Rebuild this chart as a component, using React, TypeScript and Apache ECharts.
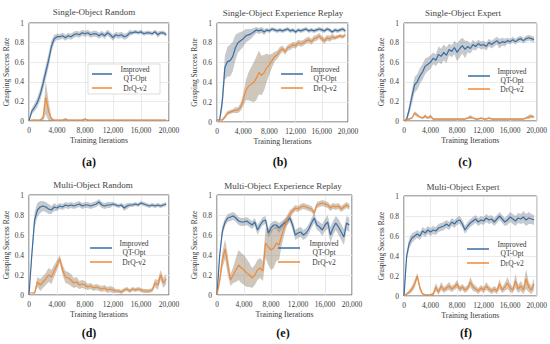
import React, { useEffect, useRef } from "react";
import * as echarts from "echarts";

// Sample grid: training iterations every 400 steps
const ITER = Array.from({ length: 50 }, (_, i) => i * 400);

const TITLES = [
  "Single-Object Random",
  "Single-Object Experience Replay",
  "Single-Object Expert",
  "Multi-Object Random",
  "Multi-Object Experience Replay",
  "Multi-Object Expert",
];
const CAPTIONS = ["(a)", "(b)", "(c)", "(d)", "(e)", "(f)"];
const SERIES_NAMES = ["Improved\nQT-Opt", "DrQ-v2"];
const X_NAME = "Training Iterations";
const Y_NAME = "Grasping Success Rate";

// (a) Single-Object Random
const aBlue = [0, 0.1, 0.14, 0.19, 0.27, 0.38, 0.5, 0.62, 0.76, 0.84, 0.86, 0.86, 0.87, 0.85, 0.87, 0.86, 0.88, 0.89, 0.88, 0.9, 0.89, 0.9, 0.88, 0.89, 0.89, 0.87, 0.89, 0.87, 0.9, 0.88, 0.85, 0.88, 0.87, 0.88, 0.86, 0.87, 0.9, 0.9, 0.91, 0.9, 0.91, 0.89, 0.9, 0.9, 0.89, 0.91, 0.88, 0.9, 0.9, 0.88];
const aBlueS = [0, 0.03, 0.04, 0.05, 0.06, 0.07, 0.07, 0.07, 0.06, 0.04, 0.03, 0.03, 0.03, 0.03, 0.03, 0.03, 0.03, 0.03, 0.03, 0.03, 0.03, 0.03, 0.03, 0.03, 0.03, 0.03, 0.03, 0.03, 0.03, 0.03, 0.03, 0.03, 0.03, 0.03, 0.03, 0.03, 0.03, 0.02, 0.02, 0.02, 0.02, 0.02, 0.02, 0.02, 0.02, 0.02, 0.03, 0.02, 0.02, 0.02];
const aOrange = [0, 0.01, 0.01, 0.01, 0.01, 0.03, 0.24, 0.1, 0.02, 0.01, 0.01, 0.01, 0.01, 0.02, 0.01, 0.01, 0.01, 0.01, 0.01, 0.01, 0.02, 0.01, 0.01, 0.01, 0.01, 0.01, 0.01, 0.01, 0.01, 0.01, 0.01, 0.01, 0.01, 0.01, 0.01, 0.01, 0.01, 0.01, 0.01, 0.01, 0.01, 0.01, 0.01, 0.01, 0.01, 0.01, 0.01, 0.01, 0.01, 0.01];
const aOrangeS = [0, 0.005, 0.005, 0.005, 0.005, 0.03, 0.17, 0.1, 0.02, 0.005, 0.005, 0.005, 0.005, 0.01, 0.005, 0.005, 0.005, 0.005, 0.005, 0.005, 0.01, 0.005, 0.005, 0.005, 0.005, 0.005, 0.005, 0.005, 0.005, 0.005, 0.005, 0.005, 0.005, 0.005, 0.005, 0.005, 0.005, 0.005, 0.005, 0.005, 0.005, 0.005, 0.005, 0.005, 0.005, 0.005, 0.005, 0.005, 0.005, 0.005];

// (b) Single-Object Experience Replay
const bBlue = [0.02, 0.02, 0.2, 0.55, 0.61, 0.62, 0.66, 0.75, 0.8, 0.82, 0.84, 0.87, 0.88, 0.89, 0.91, 0.93, 0.92, 0.93, 0.91, 0.93, 0.92, 0.94, 0.93, 0.92, 0.93, 0.92, 0.93, 0.94, 0.92, 0.93, 0.91, 0.93, 0.92, 0.93, 0.94, 0.92, 0.93, 0.92, 0.93, 0.94, 0.93, 0.92, 0.94, 0.93, 0.91, 0.93, 0.92, 0.93, 0.94, 0.92];
const bBlueS = [0, 0.01, 0.08, 0.12, 0.15, 0.16, 0.15, 0.13, 0.1, 0.09, 0.08, 0.07, 0.06, 0.05, 0.04, 0.03, 0.03, 0.03, 0.03, 0.02, 0.02, 0.02, 0.02, 0.02, 0.02, 0.02, 0.02, 0.02, 0.02, 0.02, 0.02, 0.02, 0.02, 0.02, 0.02, 0.02, 0.02, 0.02, 0.02, 0.02, 0.02, 0.02, 0.02, 0.02, 0.02, 0.02, 0.02, 0.02, 0.02, 0.02];
const bOrange = [0.02, 0.02, 0.02, 0.05, 0.09, 0.1, 0.11, 0.12, 0.12, 0.15, 0.22, 0.32, 0.36, 0.38, 0.4, 0.44, 0.5, 0.47, 0.5, 0.55, 0.58, 0.62, 0.66, 0.68, 0.72, 0.74, 0.71, 0.75, 0.76, 0.78, 0.77, 0.8, 0.79, 0.8, 0.82, 0.83, 0.81, 0.84, 0.85, 0.87, 0.84, 0.82, 0.85, 0.84, 0.86, 0.85, 0.86, 0.87, 0.86, 0.88];
const bOrangeS = [0, 0, 0.01, 0.02, 0.02, 0.02, 0.02, 0.03, 0.03, 0.04, 0.06, 0.1, 0.14, 0.17, 0.2, 0.22, 0.22, 0.2, 0.18, 0.14, 0.1, 0.07, 0.05, 0.04, 0.04, 0.03, 0.03, 0.03, 0.03, 0.03, 0.03, 0.03, 0.03, 0.03, 0.03, 0.03, 0.03, 0.03, 0.03, 0.03, 0.03, 0.03, 0.03, 0.03, 0.03, 0.02, 0.02, 0.02, 0.02, 0.02];

// (c) Single-Object Expert
const cBlue = [0, 0.02, 0.12, 0.25, 0.37, 0.4, 0.46, 0.5, 0.56, 0.58, 0.6, 0.64, 0.62, 0.68, 0.66, 0.7, 0.67, 0.73, 0.71, 0.75, 0.7, 0.74, 0.77, 0.73, 0.76, 0.74, 0.78, 0.76, 0.79, 0.77, 0.78, 0.76, 0.8, 0.78, 0.8, 0.82, 0.79, 0.81, 0.8, 0.82, 0.81, 0.83, 0.81, 0.83, 0.84, 0.82, 0.84, 0.85, 0.84, 0.83];
const cBlueS = [0, 0.02, 0.05, 0.07, 0.08, 0.08, 0.08, 0.08, 0.08, 0.07, 0.07, 0.06, 0.06, 0.08, 0.08, 0.08, 0.08, 0.06, 0.06, 0.07, 0.09, 0.09, 0.08, 0.09, 0.06, 0.05, 0.05, 0.04, 0.04, 0.04, 0.04, 0.04, 0.04, 0.04, 0.04, 0.04, 0.05, 0.04, 0.04, 0.03, 0.03, 0.03, 0.03, 0.03, 0.03, 0.03, 0.03, 0.03, 0.03, 0.03];
const cOrange = [0, 0.02, 0.02, 0.03, 0.08, 0.06, 0.04, 0.03, 0.05, 0.03, 0.05, 0.02, 0.02, 0.02, 0.02, 0.02, 0.02, 0.02, 0.02, 0.02, 0.02, 0.02, 0.02, 0.02, 0.03, 0.04, 0.03, 0.02, 0.02, 0.03, 0.02, 0.02, 0.03, 0.02, 0.02, 0.02, 0.02, 0.02, 0.02, 0.02, 0.02, 0.02, 0.02, 0.02, 0.02, 0.02, 0.03, 0.04, 0.05, 0.04];
const cOrangeS = [0, 0.01, 0.01, 0.01, 0.02, 0.02, 0.01, 0.01, 0.02, 0.01, 0.02, 0.01, 0.01, 0.01, 0.01, 0.01, 0.01, 0.01, 0.01, 0.01, 0.01, 0.01, 0.01, 0.01, 0.01, 0.02, 0.01, 0.01, 0.01, 0.01, 0.01, 0.01, 0.01, 0.01, 0.01, 0.01, 0.01, 0.01, 0.01, 0.01, 0.01, 0.01, 0.01, 0.01, 0.01, 0.01, 0.01, 0.02, 0.02, 0.01];

// (d) Multi-Object Random
const dBlue = [0, 0.4, 0.75, 0.85, 0.88, 0.89, 0.88, 0.86, 0.85, 0.88, 0.87, 0.89, 0.88, 0.9, 0.89, 0.9, 0.89, 0.9, 0.91, 0.89, 0.9, 0.9, 0.89, 0.9, 0.91, 0.93, 0.9, 0.89, 0.9, 0.9, 0.91, 0.9, 0.89, 0.9, 0.87, 0.89, 0.9, 0.9, 0.91, 0.9, 0.92, 0.91, 0.9, 0.89, 0.9, 0.89, 0.9, 0.89, 0.9, 0.91];
const dBlueS = [0, 0.05, 0.08, 0.07, 0.06, 0.05, 0.05, 0.05, 0.04, 0.04, 0.03, 0.03, 0.03, 0.03, 0.03, 0.03, 0.03, 0.03, 0.03, 0.03, 0.03, 0.03, 0.03, 0.03, 0.03, 0.03, 0.03, 0.03, 0.03, 0.03, 0.02, 0.02, 0.02, 0.02, 0.03, 0.03, 0.02, 0.02, 0.02, 0.02, 0.02, 0.02, 0.02, 0.02, 0.02, 0.02, 0.02, 0.02, 0.02, 0.02];
const dOrange = [0.02, 0.02, 0.02, 0.13, 0.1, 0.13, 0.16, 0.2, 0.18, 0.24, 0.3, 0.36, 0.25, 0.18, 0.17, 0.15, 0.12, 0.13, 0.1, 0.11, 0.1, 0.08, 0.09, 0.07, 0.08, 0.07, 0.06, 0.07, 0.05, 0.06, 0.05, 0.04, 0.04, 0.03, 0.05, 0.06, 0.04, 0.06, 0.05, 0.06, 0.05, 0.04, 0.04, 0.04, 0.05, 0.12, 0.1, 0.2, 0.12, 0.16];
const dOrangeS = [0, 0, 0.01, 0.05, 0.06, 0.06, 0.06, 0.07, 0.07, 0.06, 0.05, 0.04, 0.05, 0.06, 0.06, 0.06, 0.05, 0.05, 0.04, 0.04, 0.04, 0.03, 0.03, 0.03, 0.03, 0.03, 0.03, 0.03, 0.03, 0.03, 0.03, 0.02, 0.02, 0.02, 0.02, 0.02, 0.02, 0.02, 0.02, 0.02, 0.02, 0.02, 0.02, 0.02, 0.02, 0.04, 0.05, 0.05, 0.05, 0.05];

// (e) Multi-Object Experience Replay
const eBlue = [0, 0.4, 0.64, 0.73, 0.77, 0.78, 0.79, 0.77, 0.74, 0.73, 0.73, 0.74, 0.72, 0.7, 0.73, 0.65, 0.7, 0.74, 0.75, 0.62, 0.67, 0.7, 0.7, 0.67, 0.7, 0.72, 0.74, 0.77, 0.7, 0.6, 0.62, 0.63, 0.6, 0.62, 0.66, 0.72, 0.77, 0.7, 0.68, 0.65, 0.7, 0.73, 0.6, 0.67, 0.72, 0.68, 0.63, 0.58, 0.72, 0.7];
const eBlueS = [0, 0.04, 0.05, 0.04, 0.04, 0.04, 0.04, 0.04, 0.04, 0.04, 0.04, 0.04, 0.04, 0.04, 0.04, 0.05, 0.04, 0.04, 0.04, 0.05, 0.05, 0.04, 0.04, 0.05, 0.04, 0.04, 0.04, 0.04, 0.05, 0.05, 0.05, 0.05, 0.05, 0.05, 0.05, 0.05, 0.05, 0.05, 0.05, 0.06, 0.06, 0.07, 0.08, 0.07, 0.07, 0.08, 0.08, 0.08, 0.07, 0.07];
const eOrange = [0, 0.15, 0.35, 0.46, 0.3, 0.15, 0.2, 0.25, 0.3, 0.27, 0.25, 0.22, 0.2, 0.17, 0.2, 0.25, 0.27, 0.24, 0.52, 0.48, 0.45, 0.47, 0.52, 0.5, 0.6, 0.68, 0.75, 0.81, 0.84, 0.87, 0.86, 0.88, 0.89, 0.88, 0.87, 0.86, 0.82, 0.9, 0.91, 0.92, 0.91, 0.9, 0.87, 0.89, 0.88, 0.89, 0.86, 0.88, 0.9, 0.88];
const eOrangeS = [0, 0.05, 0.08, 0.1, 0.1, 0.06, 0.08, 0.12, 0.15, 0.15, 0.15, 0.14, 0.12, 0.1, 0.1, 0.1, 0.1, 0.1, 0.15, 0.18, 0.2, 0.2, 0.18, 0.15, 0.1, 0.07, 0.05, 0.04, 0.03, 0.03, 0.03, 0.03, 0.03, 0.03, 0.03, 0.03, 0.03, 0.03, 0.03, 0.03, 0.03, 0.03, 0.03, 0.03, 0.03, 0.03, 0.03, 0.03, 0.03, 0.03];

// (f) Multi-Object Expert
const fBlue = [0, 0.4, 0.53, 0.58, 0.6, 0.62, 0.6, 0.65, 0.63, 0.66, 0.64, 0.66, 0.65, 0.68, 0.69, 0.7, 0.72, 0.7, 0.74, 0.72, 0.75, 0.76, 0.72, 0.66, 0.7, 0.73, 0.75, 0.77, 0.74, 0.76, 0.75, 0.78, 0.76, 0.77, 0.74, 0.77, 0.8, 0.77, 0.74, 0.76, 0.79, 0.77, 0.75, 0.78, 0.77, 0.79, 0.76, 0.78, 0.77, 0.76];
const fBlueS = [0, 0.05, 0.05, 0.05, 0.04, 0.04, 0.04, 0.04, 0.04, 0.04, 0.04, 0.04, 0.04, 0.04, 0.04, 0.04, 0.04, 0.04, 0.04, 0.04, 0.04, 0.04, 0.04, 0.04, 0.04, 0.04, 0.04, 0.04, 0.04, 0.04, 0.04, 0.04, 0.04, 0.04, 0.04, 0.04, 0.04, 0.04, 0.04, 0.05, 0.05, 0.05, 0.05, 0.05, 0.05, 0.06, 0.06, 0.06, 0.05, 0.05];
const fOrange = [0, 0.02, 0.04, 0.07, 0.12, 0.2, 0.08, 0.02, 0.01, 0.01, 0.01, 0.02, 0.09, 0.04, 0.1, 0.06, 0.08, 0.1, 0.07, 0.09, 0.12, 0.07, 0.09, 0.06, 0.08, 0.14, 0.09, 0.07, 0.05, 0.08, 0.06, 0.1, 0.07, 0.05, 0.07, 0.05, 0.12, 0.06, 0.09, 0.13, 0.08, 0.06, 0.15, 0.07, 0.1, 0.06, 0.17, 0.09, 0.06, 0.12];
const fOrangeS = [0, 0.01, 0.02, 0.03, 0.04, 0.03, 0.03, 0.01, 0.01, 0.01, 0.01, 0.02, 0.04, 0.03, 0.04, 0.03, 0.03, 0.04, 0.03, 0.03, 0.04, 0.03, 0.03, 0.03, 0.03, 0.05, 0.04, 0.03, 0.03, 0.03, 0.03, 0.04, 0.03, 0.03, 0.03, 0.03, 0.05, 0.03, 0.04, 0.06, 0.04, 0.03, 0.07, 0.04, 0.05, 0.04, 0.1, 0.05, 0.04, 0.06];

const DATA = [
  [aBlue, aBlueS, aOrange, aOrangeS],
  [bBlue, bBlueS, bOrange, bOrangeS],
  [cBlue, cBlueS, cOrange, cOrangeS],
  [dBlue, dBlueS, dOrange, dOrangeS],
  [eBlue, eBlueS, eOrange, eOrangeS],
  [fBlue, fBlueS, fOrange, fOrangeS],
];

// Layout (pixels)
const GRIDS = [
  { left: 29, top: 23, width: 140, height: 98 },
  { left: 217, top: 23, width: 131, height: 99 },
  { left: 404, top: 23, width: 136, height: 98 },
  { left: 29, top: 195, width: 140, height: 100 },
  { left: 217, top: 195, width: 135, height: 100 },
  { left: 404, top: 196, width: 137, height: 100 },
];
const TITLE_POS = [[94, 12], [283, 13], [463, 13], [93, 185], [283, 186], [463, 187]];
const CAPTION_POS = [[89, 162], [280, 162], [465, 162], [89, 333], [283, 333], [466, 333]];
// legend: [lineX1, lineX2, blueY, orangeY, textCenterX]
const LEGEND_POS = [
  [92, 112, 74, 88, 135],
  [281, 303, 74, 88, 325],
  [468, 490, 76, 89, 512],
  [90, 112, 248, 262, 134],
  [278, 300, 248, 262, 324],
  [467, 489, 249, 263, 512],
];

const FONT = "Liberation Serif";
const TXT = "#3a3a3a";
const BLUE = "#3a6ea6";
const ORANGE = "#ef8a3a";
const BLUE_BAND = "rgba(120,128,138,0.42)";
const ORANGE_BAND = "rgba(140,118,96,0.42)";

function bandSeries(i: number, mean: number[], spread: number[], color: string) {
  const lo = mean.map((m, k) => Math.max(0, m - spread[k]));
  const hi = mean.map((m, k) => Math.min(1, m + spread[k]));
  return {
    type: "custom",
    xAxisIndex: i,
    yAxisIndex: i,
    coordinateSystem: "cartesian2d",
    silent: true,
    z: 1,
    clip: true,
    data: ITER.map((x, k) => [x, mean[k]]),
    renderItem: (params: any, api: any) => {
      if (params.dataIndex !== 0) return null;
      const pts: number[][] = [];
      for (let k = 0; k < ITER.length; k++) pts.push(api.coord([ITER[k], hi[k]]));
      for (let k = ITER.length - 1; k >= 0; k--) pts.push(api.coord([ITER[k], lo[k]]));
      return { type: "polygon", shape: { points: pts }, style: { fill: color } };
    },
  };
}

function lineSeries(i: number, name: string, mean: number[], color: string, z: number) {
  return {
    type: "line", name, xAxisIndex: i, yAxisIndex: i,
    data: ITER.map((x, k) => [x, mean[k]]),
    symbol: "none", z,
    lineStyle: { width: 1.2, color },
    itemStyle: { color },
  };
}

export default function App() {
  const ref = useRef<HTMLDivElement>(null);
  useEffect(() => {
    if (!ref.current) return;
    const chart = echarts.init(ref.current, undefined, { renderer: "svg" });
    const series: any[] = [];
    const graphic: any[] = [];
    DATA.forEach(([bl, bls, or, ors], i) => {
      series.push(bandSeries(i, bl, bls, BLUE_BAND));
      series.push(bandSeries(i, or, ors, ORANGE_BAND));
      series.push(lineSeries(i, "Improved QT-Opt", bl, BLUE, 3));
      series.push(lineSeries(i, "DrQ-v2", or, ORANGE, 4));

      graphic.push({
        type: "text", z: 100, x: TITLE_POS[i][0], y: TITLE_POS[i][1],
        style: { text: TITLES[i], fontSize: 9, fontWeight: "normal", fontFamily: FONT, fill: "#444", align: "center", verticalAlign: "middle" },
      });
      graphic.push({
        type: "text", z: 100, x: CAPTION_POS[i][0], y: CAPTION_POS[i][1],
        style: { text: CAPTIONS[i], fontSize: 12, fontWeight: "bold", fontFamily: FONT, fill: "#111", align: "center", verticalAlign: "middle" },
      });
      const [lx1, lx2, by, oy, tx] = LEGEND_POS[i];
      if (i === 0) {
        graphic.push({
          type: "rect", z: 99, shape: { x: 88, y: 64, width: 72, height: 30 },
          style: { fill: "#fff", stroke: "#d4d4d4", lineWidth: 0.8 },
        });
      }
      graphic.push({ type: "line", z: 100, shape: { x1: lx1, y1: by, x2: lx2, y2: by }, style: { stroke: BLUE, lineWidth: 1.5 } });
      graphic.push({ type: "line", z: 100, shape: { x1: lx1, y1: oy, x2: lx2, y2: oy }, style: { stroke: ORANGE, lineWidth: 1.5 } });
      graphic.push({
        type: "text", z: 100, x: tx, y: by,
        style: { text: SERIES_NAMES[0], fontSize: 7.5, lineHeight: 8.5, fontFamily: FONT, fill: TXT, align: "center", verticalAlign: "middle" },
      });
      graphic.push({
        type: "text", z: 100, x: tx, y: oy,
        style: { text: SERIES_NAMES[1], fontSize: 7.5, fontFamily: FONT, fill: TXT, align: "center", verticalAlign: "middle" },
      });
    });

    const labelStyle = { fontSize: 7.5, fontFamily: FONT, color: TXT };
    chart.setOption({
      animation: false,
      backgroundColor: "#fff",
      grid: GRIDS.map((g) => ({ ...g, show: true, borderColor: "#5a5a5a", borderWidth: 1, backgroundColor: "transparent" })),
      xAxis: GRIDS.map((_, i) => ({
        gridIndex: i, type: "value", min: 0, max: 20000, interval: 4000,
        axisLine: { show: false }, axisTick: { show: false },
        splitLine: { show: true, lineStyle: { color: "#e4e4e4", width: 0.8 } },
        axisLabel: { ...labelStyle, margin: 5, formatter: (v: number) => v.toLocaleString("en-US") },
        name: X_NAME, nameLocation: "middle", nameGap: 15,
        nameTextStyle: { ...labelStyle, fontSize: 7.8 },
      })),
      yAxis: GRIDS.map((_, i) => ({
        gridIndex: i, type: "value", min: 0, max: 1, interval: 0.2,
        axisLine: { show: false }, axisTick: { show: false },
        splitLine: { show: true, lineStyle: { color: "#e4e4e4", width: 0.8 } },
        axisLabel: { ...labelStyle, margin: 5, formatter: (v: number) => String(Math.round(v * 10) / 10) },
        name: Y_NAME, nameLocation: "middle", nameGap: 17,
        nameTextStyle: { ...labelStyle },
      })),
      series,
      graphic,
    });
    return () => chart.dispose();
  }, []);
  return (
    <div
      ref={ref}
      style={{ position: "fixed", left: 0, top: 0, width: 550, height: 344, background: "#fff" }}
    />
  );
}
